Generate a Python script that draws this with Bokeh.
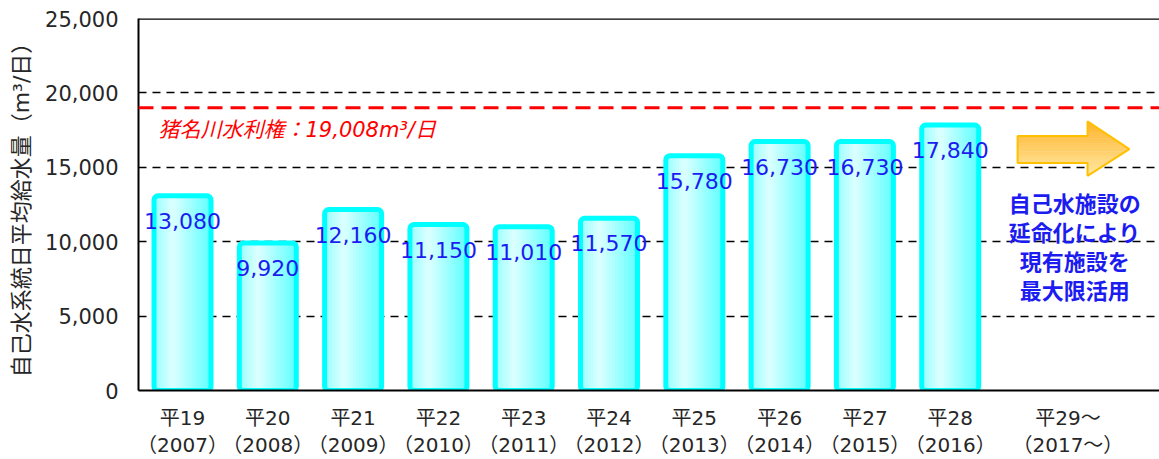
import numpy as np
from bokeh.plotting import figure
from bokeh.models import (Range1d, FixedTicker, LinearAxis, Span, Label,
                          ColumnDataSource, NumeralTickFormatter)
from bokeh.core.properties import value
from bokeh.embed import file_html
from bokeh.resources import INLINE

# ---------------- data ----------------
years_jp = ["平19", "平20", "平21", "平22", "平23", "平24", "平25", "平26", "平27", "平28"]
years_ad = ["（2007）", "（2008）", "（2009）", "（2010）", "（2011）",
            "（2012）", "（2013）", "（2014）", "（2015）", "（2016）"]
future_jp = "平29～"
future_ad = "（2017～）"
supply = [13080, 9920, 12160, 11150, 11010, 11570, 15780, 16730, 16730, 17840]
water_right = 19008
y_ticks = [0, 5000, 10000, 15000, 20000, 25000]
axis_title = "自己水系統日平均給水量（m³/日）"
note_lines = ["自己水施設の", "延命化により", "現有施設を", "最大限活用"]

# ---------------- styles ----------------
MIX = "DejaVu Sans, Noto Sans CJK JP"
CJK = "Noto Sans CJK JP"
TXT = "#262626"
BLUE = "#1c1cf0"
Y_MAX = 25000
XU = 85.3                     # screen pixels per category (x)
X0 = -0.016
W, H, LEFT = 1159, 459, 138

xs = [i + 0.5 for i in range(len(supply))]
future_x = 10.88

p = figure(width=W, height=H, output_backend="svg", toolbar_location=None,
           x_range=Range1d(X0, X0 + (W - LEFT) / XU), y_range=Range1d(0, Y_MAX),
           min_border_left=LEFT, min_border_right=0, min_border_top=18,
           min_border_bottom=60, outline_line_color=None,
           background_fill_color="white", border_fill_color="white")

# y axis
p.yaxis.ticker = FixedTicker(ticks=y_ticks)
p.yaxis.formatter = NumeralTickFormatter(format="0,0")
p.yaxis.major_label_text_font = "DejaVu Sans"
p.yaxis.major_label_text_font_size = "21px"
p.yaxis.major_label_text_color = TXT
p.yaxis.major_tick_line_color = None
p.yaxis.minor_tick_line_color = None
p.yaxis.axis_line_width = 2
p.yaxis.axis_line_color = "black"
p.yaxis.major_label_standoff = 14
p.yaxis.axis_label = axis_title
p.yaxis.axis_label_text_font = MIX
p.yaxis.axis_label_text_font_size = "22px"
p.yaxis.axis_label_text_font_style = "normal"
p.yaxis.axis_label_text_color = TXT
p.yaxis.axis_label_standoff = 8

# grid
p.xgrid.visible = False
p.ygrid.ticker = FixedTicker(ticks=y_ticks[1:-1])
p.ygrid.grid_line_color = "black"
p.ygrid.grid_line_width = 1.5
p.ygrid.grid_line_dash = "8 6"
p.add_layout(Span(location=Y_MAX, dimension="width", line_color="black", line_width=2.5))

# x axis (two rows of category labels)
ticks = xs + [future_x]
row1 = {x: t for x, t in zip(xs, years_jp)}
row1[future_x] = future_jp
row2 = {x: t for x, t in zip(xs, years_ad)}
row2[future_x] = future_ad

p.xaxis.ticker = FixedTicker(ticks=ticks)
p.xaxis.major_label_overrides = row1
p.xaxis.major_label_text_font = MIX
p.xaxis.major_label_text_font_size = "20px"
p.xaxis.major_label_text_color = TXT
p.xaxis.major_tick_line_color = None
p.xaxis.minor_tick_line_color = None
p.xaxis.axis_line_width = 2
p.xaxis.axis_line_color = "black"
p.xaxis.major_label_standoff = 9

ax2 = LinearAxis(ticker=FixedTicker(ticks=ticks), major_label_overrides=row2,
                 major_label_text_font=MIX, major_label_text_font_size="20px",
                 major_label_text_color=TXT, axis_line_color=None,
                 major_tick_line_color=None, minor_tick_line_color=None,
                 major_label_standoff=-6)
p.add_layout(ax2, "below")

# bars: gradient strips
N = 18
inner_w = 0.64
def strip_color(t):
    if t < 0.32:
        s = 0.45 + 0.55 * (t / 0.32)
    else:
        s = 1.0 - (t - 0.32) / 0.68
    r = int(100 + (222 - 100) * s)
    return "#%02xffff" % r

L, R, T, C = [], [], [], []
for x, v in zip(xs, supply):
    for k in range(N):
        l = x - inner_w / 2 + k * inner_w / N
        L.append(l)
        R.append(l + inner_w / N + 0.012)
        T.append(v)
        C.append(strip_color((k + 0.5) / N))
p.quad(left=L, right=R, top=T, bottom=0, fill_color=C, line_color=None)

p.vbar(x=xs, top=supply, bottom=0, width=0.668, fill_color=None,
       line_color="#00ffff", line_width=5, border_radius=4)

# value labels
src = ColumnDataSource(dict(x=xs, y=supply, t=[f"{v:,}" for v in supply]))
p.text(x="x", y="y", text="t", source=src, y_offset=25,
       text_align="center", text_baseline="middle",
       text_font=value("DejaVu Sans"), text_font_size="22px", text_color=BLUE)

# water-right line and label
p.add_layout(Span(location=water_right, dimension="width", line_color="#ff0000",
                  line_width=3, line_dash="15 8"))
p.text(x=[X0 + 20 / XU], y=[water_right], text=[f"猪名川水利権：{water_right:,}m³/日"],
       y_offset=22, text_align="left", text_baseline="middle",
       text_font=value(MIX), text_font_size="21px", text_font_style="italic",
       text_color="#ff0000")

# arrow (decorative)
a_x0, a_head, a_tip = 10.29, 11.11, 11.60
s_top, s_bot, h_top, h_bot, tip_y = 17108, 15293, 18085, 14428, 16223

def right_edge(y):
    if y >= tip_y:
        f = 1 - (y - tip_y) / (h_top - tip_y)
    else:
        f = 1 - (tip_y - y) / (tip_y - h_bot)
    return a_head + (a_tip - a_head) * f

edges = sorted(set(np.round(np.linspace(h_bot, h_top, 26), 3)) | {s_top, s_bot, tip_y})
bxs, bys, bcs = [], [], []
for y0, y1 in zip(edges[:-1], edges[1:]):
    ym = (y0 + y1) / 2
    left = a_x0 if s_bot <= ym <= s_top else a_head
    bxs.append([left, right_edge(y0), right_edge(y1), left])
    bys.append([y0, y0, y1, y1])
    t = (ym - h_bot) / (h_top - h_bot)
    r0, g0, b0 = 0xff, 0xe9, 0xa6
    r1, g1, b1 = 0xff, 0xb4, 0x2a
    bcs.append("#%02x%02x%02x" % (int(r0 + (r1 - r0) * t), int(g0 + (g1 - g0) * t),
                                  int(b0 + (b1 - b0) * t)))
p.patches(xs=bxs, ys=bys, fill_color=bcs, line_color=bcs, line_width=0.6)
p.patch(x=[a_x0, a_head, a_head, a_tip, a_head, a_head, a_x0],
        y=[s_top, s_top, h_top, tip_y, h_bot, s_bot, s_bot],
        fill_color=None, line_color="#ffc000", line_width=2)

# note text
p.add_layout(Label(x=10.96, y=9741, text="\n".join(note_lines), text_align="center",
                   text_baseline="middle", text_line_height=0.9,
                   text_font=CJK, text_font_size="22px",
                   text_font_style="bold", text_color=BLUE))

open("out.html", "w").write(file_html(p, INLINE))
